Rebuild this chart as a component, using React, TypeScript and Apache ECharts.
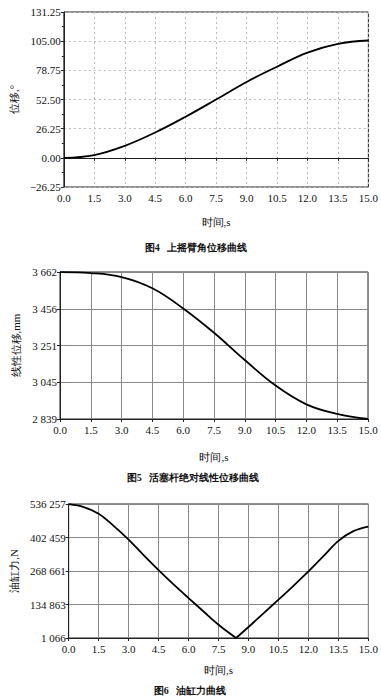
import React, { useEffect, useRef } from "react";
import * as echarts from "echarts";

const timeTicks = ["0.0", "1.5", "3.0", "4.5", "6.0", "7.5", "9.0", "10.5", "12.0", "13.5", "15.0"];

const t1 = [0, 1.5, 3, 4.5, 6, 7.5, 9, 10.5, 12, 13.5, 15];
const angle = [0, 2.5, 10.8, 22.8, 37, 52.5, 68.3, 82, 94.7, 102.6, 105.6];
const angleLabels = ["−26.25", "0.00", "26.25", "52.50", "78.75", "105.00", "131.25"];

const t2 = [0, 1.5, 3, 4.5, 6, 7.5, 9, 10.5, 12, 13.5, 15];
const linear = [3661, 3656, 3634, 3571, 3458, 3322, 3169, 3026, 2921, 2867, 2839];
const linearLabels = ["2 839", "3 045", "3 251", "3 456", "3 662"];

const t3 = [0, 0.75, 1.5, 2.25, 3, 3.75, 4.5, 5.25, 6, 6.75, 7.5, 8.38, 9, 9.75, 10.5, 11.25, 12, 12.75, 13.5, 14.25, 15];
const force = [535500, 524000, 497000, 449000, 394000, 332000, 272000, 215000, 160500, 107000, 54000, 1066, 45000, 99500, 154000, 209500, 267000, 328000, 389000, 428000, 446000];
const forceLabels = ["1 066", "134 863", "268 661", "402 459", "536 257"];

const captions = ["图4   上摇臂角位移曲线", "图5   活塞杆绝对线性位移曲线", "图6   油缸力曲线"];

const FONT = "Liberation Serif";

export default function App() {
  const ref = useRef<HTMLDivElement>(null);
  useEffect(() => {
    if (!ref.current) return;
    const chart = echarts.init(ref.current, undefined, { renderer: "svg" });
    const labelStyle = { color: "#111", fontFamily: FONT, fontSize: 11 };
    const nameStyle = { color: "#111", fontFamily: FONT, fontSize: 11 };
    const axisLine = { show: true, lineStyle: { color: "#222", width: 1 } };

    const makeX = (gridIndex: number, nameGap: number) => ({
      type: "value",
      gridIndex,
      min: 0,
      max: 15,
      interval: 1.5,
      name: "时间,s",
      nameLocation: "middle",
      nameGap,
      nameTextStyle: nameStyle,
      axisLine,
      axisTick: { show: true, length: 3, lineStyle: { color: "#222" } },
      axisLabel: { ...labelStyle, margin: 5, formatter: (_v: number, i: number) => timeTicks[i] },
      splitLine:
        gridIndex === 0
          ? { show: true, lineStyle: { color: "#bbb", type: [2, 3], width: 1 } }
          : { show: true, lineStyle: { color: "#888", width: 1 } },
    });

    const minIdx = force.indexOf(Math.min(...force));
    const forcePts = t3.map((t, i) => [t, force[i]]);

    const option = {
      animation: false,
      backgroundColor: "#fff",
      grid: [
        { left: 62, right: 11, top: 12, height: 175, show: true, borderColor: "#222", borderWidth: 1 },
        { left: 60, right: 13, top: 272, height: 147, show: true, borderColor: "#222", borderWidth: 1 },
        { left: 62, right: 12, top: 504, height: 134, show: true, borderColor: "#222", borderWidth: 1 },
      ],
      xAxis: [makeX(0, 29), makeX(1, 32), makeX(2, 26)],
      yAxis: [
        {
          type: "value",
          gridIndex: 0,
          min: -26.25,
          max: 131.25,
          interval: 26.25,
          name: "位移,°",
          nameLocation: "middle",
          nameGap: 31,
          nameTextStyle: nameStyle,
          axisLine,
          axisTick: { show: true, length: 3, lineStyle: { color: "#222" } },
          minorTick: { show: true, splitNumber: 2, length: 2, lineStyle: { color: "#222" } },
          axisLabel: { ...labelStyle, margin: 3, formatter: (_v: number, i: number) => angleLabels[i] },
          splitLine: { show: true, lineStyle: { color: "#bbb", type: [2, 3], width: 1 } },
        },
        {
          type: "value",
          gridIndex: 1,
          min: 2839,
          max: 3662,
          interval: 205.75,
          name: "线性位移,mm",
          nameLocation: "middle",
          nameGap: 38,
          nameTextStyle: nameStyle,
          axisLine,
          axisTick: { show: true, length: 3, lineStyle: { color: "#222" } },
          axisLabel: { ...labelStyle, margin: 3, formatter: (_v: number, i: number) => linearLabels[i] },
          splitLine: { show: true, lineStyle: { color: "#888", width: 1 } },
        },
        {
          type: "value",
          gridIndex: 2,
          min: 1066,
          max: 536257,
          interval: 133797.75,
          name: "油缸力,N",
          nameLocation: "middle",
          nameGap: 46,
          nameTextStyle: nameStyle,
          axisLine,
          axisTick: { show: true, length: 3, lineStyle: { color: "#222" } },
          axisLabel: { ...labelStyle, margin: 3, formatter: (_v: number, i: number) => forceLabels[i] },
          splitLine: { show: true, lineStyle: { color: "#888", width: 1 } },
        },
      ],
      series: [
        {
          type: "line",
          xAxisIndex: 0,
          yAxisIndex: 0,
          data: t1.map((t, i) => [t, angle[i]]),
          smooth: 0.4,
          showSymbol: false,
          lineStyle: { color: "#000", width: 1.8 },
        },
        {
          type: "line",
          xAxisIndex: 1,
          yAxisIndex: 1,
          data: t2.map((t, i) => [t, linear[i]]),
          smooth: 0.4,
          showSymbol: false,
          lineStyle: { color: "#000", width: 1.8 },
        },
        {
          type: "line",
          xAxisIndex: 2,
          yAxisIndex: 2,
          data: forcePts.slice(0, minIdx + 1),
          smooth: 0.35,
          showSymbol: false,
          lineStyle: { color: "#000", width: 1.8 },
        },
        {
          type: "line",
          xAxisIndex: 2,
          yAxisIndex: 2,
          data: forcePts.slice(minIdx),
          smooth: 0.35,
          showSymbol: false,
          lineStyle: { color: "#000", width: 1.8 },
        },
      ],
      graphic: [
        { type: "text", x: 196, y: 247, style: { text: captions[0], textAlign: "center", textVerticalAlign: "middle", fontFamily: FONT, fontSize: 10, fontWeight: "bold", fill: "#111" } },
        { type: "text", x: 193, y: 477, style: { text: captions[1], textAlign: "center", textVerticalAlign: "middle", fontFamily: FONT, fontSize: 10, fontWeight: "bold", fill: "#111" } },
        { type: "text", x: 190, y: 690, style: { text: captions[2], textAlign: "center", textVerticalAlign: "middle", fontFamily: FONT, fontSize: 10, fontWeight: "bold", fill: "#111" } },
      ],
    };
    chart.setOption(option as any);
    return () => chart.dispose();
  }, []);
  return <div ref={ref} style={{ position: "absolute", left: 0, top: 0, width: 381, height: 700 }} />;
}
